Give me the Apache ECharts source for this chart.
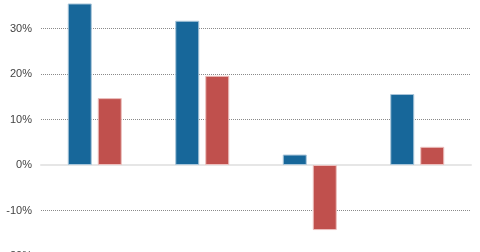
<!DOCTYPE html>
<html><head><meta charset="utf-8">
<script src="https://cdn.jsdelivr.net/npm/echarts@6/dist/echarts.min.js"></script>
<style>html,body{margin:0;padding:0;background:#fff;overflow:hidden;width:480px;height:252px}#c{position:absolute;left:0;top:-17px;width:480px;height:273px}</style>
</head><body><div id="c"></div>
<script>
const categories = ['A', 'B', 'C', 'D'];
const seriesBlue = [35.5, 31.7, 2.3, 15.6];
const seriesRed = [14.7, 19.6, -14.3, 4.0];
const yTicks = [-20, -10, 0, 10, 20, 30, 40];

const chart = echarts.init(document.getElementById('c'), null, {renderer: 'canvas'});
chart.setOption({
  animation: false,
  grid: {left: 41, right: 9, top: 0, bottom: 0, containLabel: false, outerBoundsMode: 'none'},
  xAxis: {
    type: 'category', data: categories,
    axisLine: {show: true, onZero: true, lineStyle: {color: '#e6e6e6', width: 2}},
    axisTick: {show: false}, axisLabel: {show: false}, splitLine: {show: false}
  },
  yAxis: {
    type: 'value', min: yTicks[0], max: yTicks[yTicks.length - 1], interval: 10,
    axisLine: {show: false}, axisTick: {show: false},
    axisLabel: {formatter: v => v + '%', color: '#444', fontFamily: 'Liberation Sans, Arial, sans-serif', fontSize: 11, margin: 9},
    splitLine: {show: true, lineStyle: {color: yTicks.map(v => v === 0 ? 'rgba(0,0,0,0)' : '#8a8a8a'), type: [1, 1], width: 1}}
  },
  series: [
    {type: 'bar', data: seriesBlue, barWidth: 24, barGap: '25%',
     itemStyle: {color: '#17679a', borderColor: '#a9c6da', borderWidth: 1}},
    {type: 'bar', data: seriesRed, barWidth: 24,
     itemStyle: {color: '#c0504d', borderColor: '#ecc0bf', borderWidth: 1}}
  ]
});
</script></body></html>
